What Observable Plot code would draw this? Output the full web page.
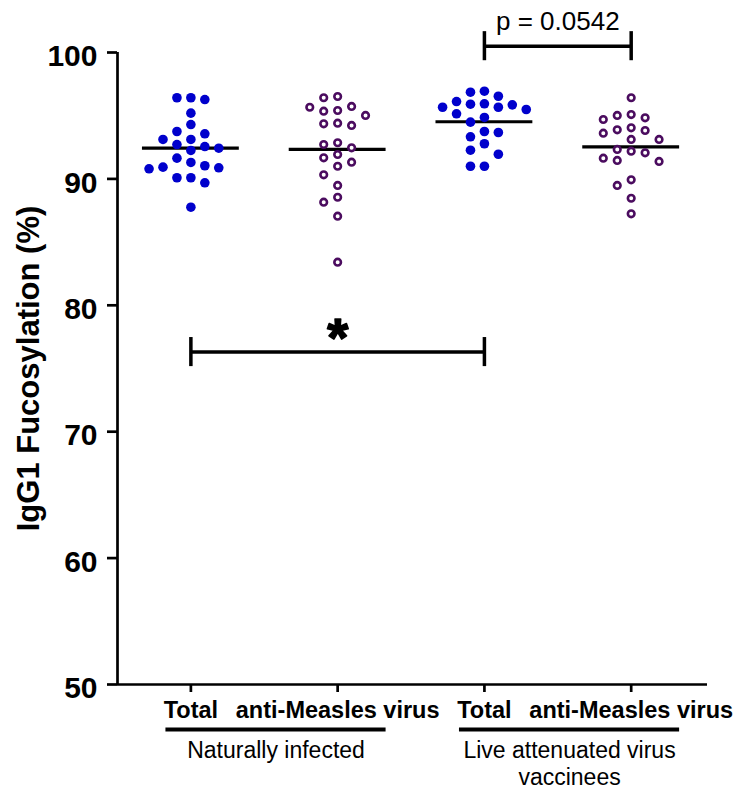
<!DOCTYPE html>
<html><head><meta charset="utf-8">
<script src="https://cdn.jsdelivr.net/npm/d3@7"></script>
<script src="https://cdn.jsdelivr.net/npm/@observablehq/plot@0.6"></script>
<style>body{margin:0;background:#fff} #chart svg{display:block}</style>
</head><body><div id="chart"></div>
<script>
// ---- data ----
const categories = ["Total", "anti-Measles virus", "Total", "anti-Measles virus"];
const cohorts = ["Naturally infected", "Live attenuated virus\nvaccinees"];
const totalNatural = [96.42, 96.42, 96.28, 95.20, 94.30, 93.75, 93.57, 93.12, 93.12, 92.72, 92.56, 92.43, 92.25, 91.64, 91.30, 91.04, 90.93, 90.88, 90.80, 90.09, 90.09, 89.69, 87.76];
const measlesNatural = [96.52, 96.42, 95.73, 95.67, 95.41, 95.36, 95.02, 94.41, 94.36, 94.23, 92.86, 92.72, 92.46, 91.93, 91.67, 91.32, 91.00, 90.32, 89.48, 88.55, 88.16, 87.05, 83.41];
const totalVaccine = [96.94, 96.86, 96.54, 96.12, 95.94, 95.91, 95.86, 95.67, 95.67, 95.49, 95.15, 94.86, 94.49, 93.75, 93.67, 93.33, 92.78, 92.27, 91.95, 91.00, 91.00];
const measlesVaccine = [96.42, 95.09, 95.02, 94.83, 94.70, 94.04, 93.88, 93.83, 93.62, 93.12, 93.12, 92.33, 92.19, 92.06, 91.64, 91.46, 91.38, 89.93, 89.48, 88.47, 87.24];
const medians = [92.43, 92.33, 94.52, 92.54];
const yTicks = [50, 60, 70, 80, 90, 100];
const comparisons = [
  {a: 1, b: 3, y: 76.3, label: "*"},
  {a: 3, b: 4, y: 100.5, label: "p = 0.0542"}
];

// ---- column-scatter layout (computed from the values) ----
const STEP = 0.095, GAP = 0.85;
function swarm(vals, g) {
  const placed = [], out = [];
  const order = vals.map((v, i) => i).sort((a, b) => vals[b] - vals[a]);
  for (const i of order) {
    const v = vals[i];
    for (let k = 0; ; k++) {
      const s = k === 0 ? 0 : (k % 2 ? -Math.ceil(k / 2) : Math.ceil(k / 2));
      if (!placed.some(p => p.s === s && Math.abs(p.v - v) < GAP)) {
        placed.push({s, v});
        out.push({group: g, value: v, x: g + s * STEP});
        break;
      }
    }
  }
  return out;
}
const filled = [...swarm(totalNatural, 1), ...swarm(totalVaccine, 3)];
const hollow = [...swarm(measlesNatural, 2), ...swarm(measlesVaccine, 4)];
const medianData = medians.map((m, i) => ({g: i + 1, m}));
const cohortData = cohorts.map((label, i) => ({a: 2 * i + 1, b: 2 * i + 2, label}));

const BLUE = "#0000cc", PURPLE = "#4b0c5f";
const chart = Plot.plot({
  width: 740, height: 789,
  marginLeft: 117, marginRight: 33, marginTop: 52, marginBottom: 105,
  style: {fontFamily: "'Liberation Sans', Arial, sans-serif", background: "white", color: "black"},
  x: {domain: [0.5, 4.52], axis: null},
  y: {domain: [50, 100], axis: null},
  marks: [
    Plot.ruleX([0.5], {strokeWidth: 2.7}),
    Plot.ruleY([50], {strokeWidth: 2.7}),
    Plot.axisY({ticks: yTicks, tickSize: 10, strokeWidth: 2.7, tickFormat: () => "", label: null}),
    Plot.axisY({ticks: yTicks, tickSize: 0, tickPadding: 20, fontSize: 30, fontWeight: "bold", dy: 4, label: null}),
    Plot.axisX({ticks: [1, 2, 3, 4], tickSize: 8, tickPadding: 9, strokeWidth: 2.7,
      tickFormat: d => categories[d - 1], fontSize: 23.5, fontWeight: "bold", label: null}),
    Plot.ruleY(medianData, {x1: d => d.g - 0.33, x2: d => d.g + 0.33, y: "m", strokeWidth: 3.2}),
    Plot.dot(filled, {x: "x", y: "value", r: 4.8, fill: BLUE}),
    Plot.dot(hollow, {x: "x", y: "value", r: 3.3, stroke: PURPLE, strokeWidth: 2.6, fill: "white"}),
    Plot.ruleY(comparisons, {x1: "a", x2: "b", y: "y", strokeWidth: 3.5}),
    Plot.ruleX(comparisons, {x: "a", y1: d => d.y - 1.15, y2: d => d.y + 1.15, strokeWidth: 3.5}),
    Plot.ruleX(comparisons, {x: "b", y1: d => d.y - 1.15, y2: d => d.y + 1.15, strokeWidth: 3.5}),
    Plot.text(comparisons.filter(d => d.label === "*"), {x: d => (d.a + d.b) / 2, y: "y", text: "label",
      fontSize: 54, fontWeight: "bold", dy: -13, stroke: "black", strokeWidth: 1.6, fill: "black"}),
    Plot.text(comparisons.filter(d => d.label !== "*"), {x: d => (d.a + d.b) / 2, y: "y", text: "label",
      fontSize: 26, lineAnchor: "bottom", dy: -16}),
    Plot.ruleY(cohortData, {x1: d => d.a - 0.17, x2: d => d.b + 0.33, y: 50, dy: 45, strokeWidth: 4}),
    Plot.text(cohortData, {x: d => (d.a + d.b) / 2 + 0.08, y: 50, text: "label", dy: 55, lineAnchor: "top",
      fontSize: 23, lineHeight: 1.15}),
    Plot.text(["IgG1 Fucosylation (%)"], {frameAnchor: "left", textAnchor: "middle", text: d => d, rotate: -90,
      dx: -88, fontSize: 31, fontWeight: "bold"})
  ]
});
document.getElementById("chart").append(chart);
</script>
</body></html>
